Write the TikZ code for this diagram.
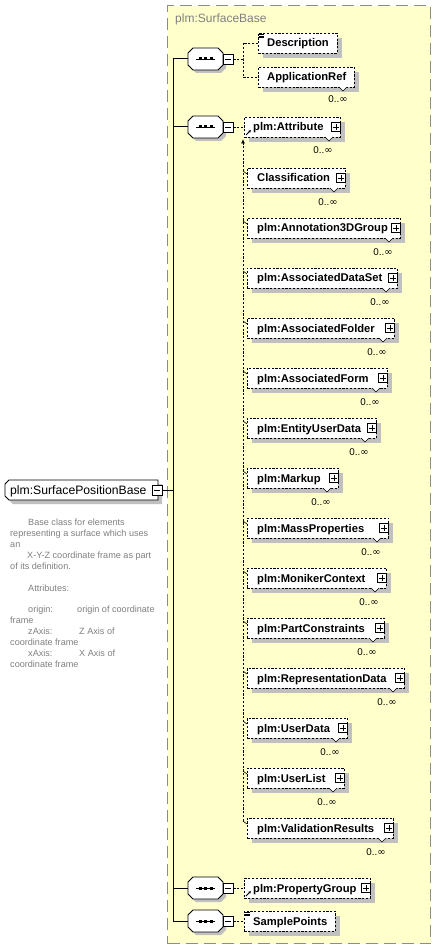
\documentclass[tikz,border=0pt]{standalone}
\usepackage{fontspec}
\setmainfont{Liberation Sans}
\newfontfamily\djv{DejaVu Sans}
\usetikzlibrary{arrows.meta}
\definecolor{ybg}{HTML}{FFFFCC}
\definecolor{shd}{HTML}{C0C0C0}
\definecolor{gtxt}{HTML}{808080}
\definecolor{gbord}{HTML}{8C8C8C}
\newcommand\inft{{\djv\fontsize{10}{11}\selectfont ∞}}
\tikzset{
  elbox/.style={draw, dash pattern=on 2.2pt off 1.6pt, fill=white, minimum height=20pt, inner sep=0pt, line width=0.8pt},
  elname/.style={font=\fontsize{11.2}{13}\selectfont\bfseries, inner sep=0pt, anchor=base west},
  mult/.style={font=\fontsize{9.8}{11}\selectfont, inner sep=0pt},
  plusbox/.style={draw, fill=white, minimum size=9pt, inner sep=0pt, line width=0.7pt},
  minusbox/.style={draw, fill=white, minimum size=10pt, inner sep=0pt, line width=0.8pt},
  desc/.style={font=\fontsize{9.1}{11}\selectfont, text=gtxt, inner sep=0pt, anchor=base west},
  conn/.style={dash pattern=on 2.2pt off 1.6pt, line width=0.8pt},
  solidl/.style={line width=1pt},
}
\newcommand\SeqC[2]{%
  \node[minimum width=35pt, minimum height=22pt, inner sep=0pt] (#1) at (205.5,#2) {};
  \fill[shd] (196,#2-8) -- (221,#2-8) -- (226,#2-3) -- (226,#2+9) -- (221,#2+14) -- (196,#2+14) -- (191,#2+9) -- (191,#2-3) -- cycle;
  \draw[fill=white, line width=0.9pt] (193,#2-11) -- (218,#2-11) -- (223,#2-6) -- (223,#2+6) -- (218,#2+11) -- (193,#2+11) -- (188,#2+6) -- (188,#2-6) -- cycle;
  \draw[line width=0.9pt] (196,#2) -- (215,#2);
  \fill (198.5,#2-1.5) rectangle (201.5,#2+1.5);
  \fill (204,#2-1.5) rectangle (207,#2+1.5);
  \fill (209.5,#2-1.5) rectangle (212.5,#2+1.5);
  \node[minusbox] (#1m) at (228,#2) {};
  \draw[line width=0.7pt] ([xshift=2.5pt]#1m.west) -- ([xshift=-2.5pt]#1m.east);
}
\newcommand\PlusIn[1]{%
  \draw[line width=0.6pt] ([xshift=2pt]#1.west) -- ([xshift=-2pt]#1.east);
  \draw[line width=0.6pt] ([yshift=-2pt]#1.north) -- ([yshift=2pt]#1.south);
}
\begin{document}
\begin{tikzpicture}[x=1pt,y=-1pt]
\useasboundingbox (0,0) rectangle (436,949);
\fill[white] (0,0) rectangle (436,949);
% container
\node[draw=gbord, fill=ybg, line width=1.3pt, dash pattern=on 12pt off 6pt, minimum width=263pt, minimum height=938pt, inner sep=0pt, anchor=north west] (cont) at (167,5) {};
\node[font=\fontsize{12}{14}\selectfont, text=gtxt, anchor=base west, inner sep=0pt] (title) at (175,23) {plm:SurfaceBase};

% left element
\fill[shd] (13,484) -- (162,484) -- (162,504) -- (13,504) -- (9,500) -- (9,488) -- cycle;
\draw[fill=white, line width=0.9pt] (9,480) -- (158,480) -- (158,500) -- (9,500) -- (5,496) -- (5,484) -- cycle;
\node[anchor=base west, inner sep=0pt, font=\fontsize{12.2}{14}\selectfont] (spb) at (10,494.5) {plm:SurfacePositionBase};
\node[minusbox] (spbm) at (157,490) {};
\draw[line width=0.7pt] ([xshift=2.5pt]spbm.west) -- ([xshift=-2.5pt]spbm.east);

% description
\node[desc] (d1) at (28,525) {Base class for elements};
\node[desc] (d2) at (10,536) {representing a surface which uses};
\node[desc] (d3) at (10,547) {an};
\node[desc] (d4) at (27,558) {X-Y-Z coordinate frame as part};
\node[desc] (d5) at (10,569) {of its definition.};
\node[desc] (d6) at (28,591) {Attributes:};
\node[desc] (d7) at (28,612) {origin:};
\node[desc] (d7b) at (77,612) {origin of coordinate};
\node[desc] (d8) at (10,623) {frame};
\node[desc] (d9) at (28,634) {zAxis:};
\node[desc] (d9b) at (79,634) {Z Axis of};
\node[desc] (d10) at (10,645) {coordinate frame};
\node[desc] (d11) at (28,656) {xAxis:};
\node[desc] (d11b) at (79,656) {X Axis of};
\node[desc] (d12) at (10,667) {coordinate frame};

% sequences
\SeqC{s1}{59}
\SeqC{s2}{127}
\SeqC{s3}{888}
\SeqC{s4}{921}

% trunk
\coordinate (trT) at (173,59);
\coordinate (trB) at (173,921);
\coordinate (tr0) at (173,490);
\draw[solidl] (trT) -- (trB);
\draw[solidl] (spbm.east) -- (tr0);
\draw[solidl] (trT) -- (s1.west);
\draw[solidl] (s2.west -| trT) -- (s2.west);
\draw[solidl] (s3.west -| trT) -- (s3.west);
\draw[solidl] (trB) -- (s4.west);

% Description
\fill[shd] (263,38) rectangle (342,58);
\node[elbox, anchor=west, minimum width=79pt] (eDesc) at (258,43) {};
\node[elname] (tDesc) at (267,47) {Description};
\draw[line width=0.6pt] (259,34.3) -- (264,34.3) (259,36) -- (264,36) (259,37.7) -- (264,37.7);

% ApplicationRef
\fill[shd] (263,72) rectangle (359,92);
\node[elbox, anchor=west, minimum width=96pt] (eApp) at (258,77) {};
\node[elname] (tApp) at (267,81) {ApplicationRef};
\draw[fill=white, line width=0.6pt] (339,87) -- (343,91) -- (347,87);
\node[mult] (mApp) at (338,99) {0..\inft};

\coordinate (b1) at (243,59);
\draw[conn] (s1m.east) -- (b1);
\draw[conn] (eDesc.west) -| (b1) |- (eApp.west);

% Attribute
\fill[shd] (249,122) rectangle (345,142);
\node[elbox, anchor=west, minimum width=96pt] (eAttr) at (244,127) {};
\node[elname] (tAttr) at (253,131) {plm:Attribute};
\node[plusbox] (pAttr) at (336,127) {};
\PlusIn{pAttr}
\draw[fill=white, line width=0.6pt] (325,137) -- (329,141) -- (333,137);
\node[mult] (mAttr) at (323,150) {0..\inft};
\draw[line width=1pt, -{Latex[length=2.5pt,width=2.8pt]}] (246,135) -- (251,130);
\draw[conn] (s2m.east) -- (eAttr.west);

% substitution members
\coordinate (vtop) at (243,139);
\coordinate (vbot) at (243,821);
\draw[conn, -{Latex[length=4.5pt,width=4pt]}] (vbot) -- (vtop);
\foreach \nm/\rx [count=\k] in {Classification/345,plm:Annotation3DGroup/400,plm:AssociatedDataSet/397,plm:AssociatedFolder/394,plm:AssociatedForm/387,plm:EntityUserData/376,plm:Markup/338,plm:MassProperties/388,plm:MonikerContext/386,plm:PartConstraints/384,plm:RepresentationData/404,plm:UserData/347,plm:UserList/344,plm:ValidationResults/393}{
  \pgfmathsetmacro\yc{128+50*\k}
  \pgfmathsetmacro\w{\rx-247}
  \fill[shd] (252,\yc-5) rectangle (\rx+5,\yc+15);
  \node[elbox, anchor=west, minimum width=\w pt] (m\k) at (247,\yc) {};
  \draw[line width=0.6pt] (243,\yc-7) -- ([yshift=4pt]m\k.west);
  \node[elname] (mt\k) at (257,\yc+4) {\nm};
  \node[plusbox] (mp\k) at (\rx-4,\yc) {};
  \PlusIn{mp\k}
  \draw[fill=white, line width=0.6pt] (\rx-15,\yc+10) -- (\rx-11,\yc+14) -- (\rx-7,\yc+10);
  \node[mult] (mm\k) at (\rx-17,\yc+24) {0..\inft};
}

% PropertyGroup
\fill[shd] (249,883) rectangle (375,903);
\node[elbox, anchor=west, minimum width=126pt] (ePG) at (244,888) {};
\node[elname] (tPG) at (253,892) {plm:PropertyGroup};
\node[plusbox] (pPG) at (366,888) {};
\PlusIn{pPG}
\draw[line width=1pt, -{Latex[length=2.5pt,width=2.8pt]}] (246,896) -- (251,891);
\draw[conn] (s3m.east) -- (ePG.west);

% SamplePoints
\fill[shd] (249,916) rectangle (340,936);
\node[elbox, anchor=west, minimum width=91pt] (eSP) at (244,921) {};
\node[elname] (tSP) at (253,925) {SamplePoints};
\draw[line width=0.6pt] (245,912.3) -- (250,912.3) (245,914) -- (250,914) (245,915.7) -- (250,915.7);
\draw[conn] (s4m.east) -- (eSP.west);
\end{tikzpicture}
\end{document}
